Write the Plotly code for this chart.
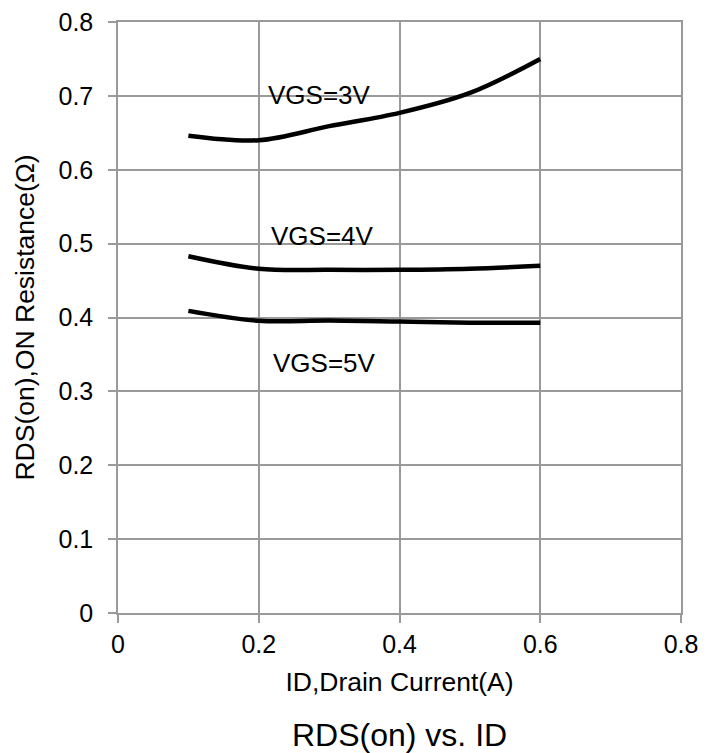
import plotly.graph_objects as go

# Data
id_current = [0.1, 0.2, 0.3, 0.4, 0.5, 0.6]
rds_vgs3 = [0.646, 0.640, 0.659, 0.677, 0.704, 0.750]
rds_vgs4 = [0.483, 0.466, 0.4645, 0.4645, 0.466, 0.470]
rds_vgs5 = [0.409, 0.3955, 0.396, 0.3946, 0.393, 0.393]

label_names = ["VGS=3V", "VGS=4V", "VGS=5V"]
label_x = [0.286, 0.291, 0.293]
label_y = [0.701, 0.510, 0.339]

x_ticks = [0, 0.2, 0.4, 0.6, 0.8]
y_ticks = [0, 0.1, 0.2, 0.3, 0.4, 0.5, 0.6, 0.7, 0.8]

FONT = "Liberation Sans, Arial, sans-serif"
GRID = "#9a9a9a"

fig = go.Figure()
for name, ys in zip(label_names, [rds_vgs3, rds_vgs4, rds_vgs5]):
    fig.add_trace(go.Scatter(
        x=id_current, y=ys, mode="lines", name=name,
        line=dict(color="black", width=4.5, shape="spline", smoothing=1.0),
        showlegend=False,
    ))

for t, xv, yv in zip(label_names, label_x, label_y):
    fig.add_annotation(x=xv, y=yv, xref="x", yref="y", text=t, showarrow=False,
                       font=dict(family=FONT, size=26, color="black"),
                       xanchor="center", yanchor="middle")

fig.add_annotation(x=0.5, y=-0.206, xref="paper", yref="paper",
                   text="RDS(on) vs. ID", showarrow=False,
                   font=dict(family=FONT, size=32, color="black"),
                   xanchor="center", yanchor="middle")

fig.update_layout(
    width=717, height=753,
    margin=dict(l=109.5, r=43.7, t=14, b=147.7),
    paper_bgcolor="white", plot_bgcolor="white",
    font=dict(family=FONT, color="black"),
)
fig.update_xaxes(
    range=[0, 0.8], tickvals=x_ticks, ticktext=[f"{v:g}" for v in x_ticks],
    automargin=False, ticklabeloverflow="allow",
    showgrid=True, gridcolor=GRID, gridwidth=1.5,
    showline=True, linecolor=GRID, linewidth=1.5, mirror=True,
    ticks="outside", ticklen=8, tickcolor=GRID, tickwidth=1.5,
    tickfont=dict(family=FONT, size=25, color="black"),
    zeroline=False,
    title=dict(text="ID,Drain Current(A)", font=dict(family=FONT, size=26.5, color="black"), standoff=16),
)
fig.update_yaxes(
    range=[0, 0.8], tickvals=y_ticks, ticktext=[f"{v:g}" for v in y_ticks],
    automargin=False, ticklabeloverflow="allow",
    showgrid=True, gridcolor=GRID, gridwidth=1.5,
    showline=True, linecolor=GRID, linewidth=1.5, mirror=True,
    ticks="outside", ticklen=8, tickcolor=GRID, tickwidth=1.5,
    tickfont=dict(family=FONT, size=25, color="black"),
    ticklabelstandoff=10,
    zeroline=False,
    title=dict(text="RDS(on),ON Resistance(Ω)", font=dict(family=FONT, size=26.5, color="black"), standoff=16),
)

fig.write_html("out.html")
